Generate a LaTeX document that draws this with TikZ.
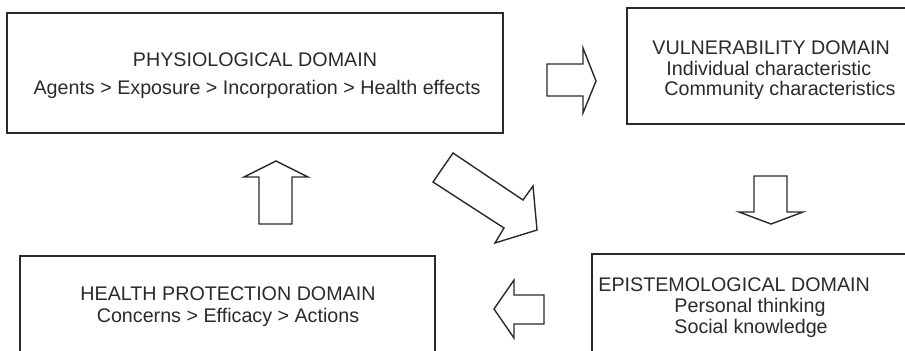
\documentclass[tikz,border=0pt]{standalone}
\usepackage{fontspec}
\setmainfont{Liberation Sans}
\definecolor{ink}{HTML}{2A2A2A}
\begin{document}
\begin{tikzpicture}[x=0.5pt,y=-0.5pt,
  box/.style={draw=ink, line width=0.9pt, inner sep=0pt},
  lbl/.style={inner sep=0pt, font=\fontsize{9.85}{12}\selectfont, text=ink},
  blockarrow/.style={draw=ink, line width=0.7pt, line join=miter, fill=white}]
\useasboundingbox (0,0) rectangle (905,350);
\clip (0,0) rectangle (905,350);
% domain boxes
\node[box, minimum width=248pt, minimum height=60pt] (phys) at (255,73) {};
\node[box, minimum width=149pt, minimum height=58pt] (vuln) at (776,66) {};
\node[box, minimum width=207.5pt, minimum height=57pt] (health) at (227.5,313) {};
\node[box, minimum width=166.5pt, minimum height=58pt] (epi) at (758.5,312) {};
% texts
\node[lbl, anchor=base] (physT) at (255,66) {PHYSIOLOGICAL DOMAIN};
\node[lbl, anchor=base] (physL) at (257,94) {Agents > Exposure > Incorporation > Health effects};
\node[lbl, anchor=base west] (vulnT) at (652,54) {VULNERABILITY DOMAIN};
\node[lbl, anchor=base west] (vulnA) at (666,75) {Individual characteristic};
\node[lbl, anchor=base west] (vulnB) at (664,95) {Community characteristics};
\node[lbl, anchor=base] (healthT) at (228,300) {HEALTH PROTECTION DOMAIN};
\node[lbl, anchor=base] (healthL) at (228,322) {Concerns > Efficacy > Actions};
\node[lbl, anchor=base west] (epiT) at (598,291) {EPISTEMOLOGICAL DOMAIN};
\node[lbl, anchor=base west] (epiA) at (674,312) {Personal thinking};
\node[lbl, anchor=base west] (epiB) at (674,333) {Social knowledge};
% block arrows
\draw[blockarrow] (259,224) -- (259,177) -- (244,177) -- (276,161) -- (308,177) -- (292,177) -- (292,224) -- cycle;
\draw[blockarrow] (547,64) -- (583,64) -- (583,48) -- (596,81) -- (583,113) -- (583,96) -- (547,96) -- cycle;
\draw[blockarrow] (754,176) -- (787,176) -- (787,212) -- (803,212) -- (771,224) -- (739,212) -- (754,212) -- cycle;
\draw[blockarrow] (544,295) -- (514,295) -- (514,280) -- (494,309) -- (514,338) -- (514,324) -- (544,324) -- cycle;
\draw[blockarrow] (453,153) -- (523,200) -- (533,186) -- (537,230) -- (495,243) -- (504,228) -- (433,182) -- cycle;
\end{tikzpicture}
\end{document}
